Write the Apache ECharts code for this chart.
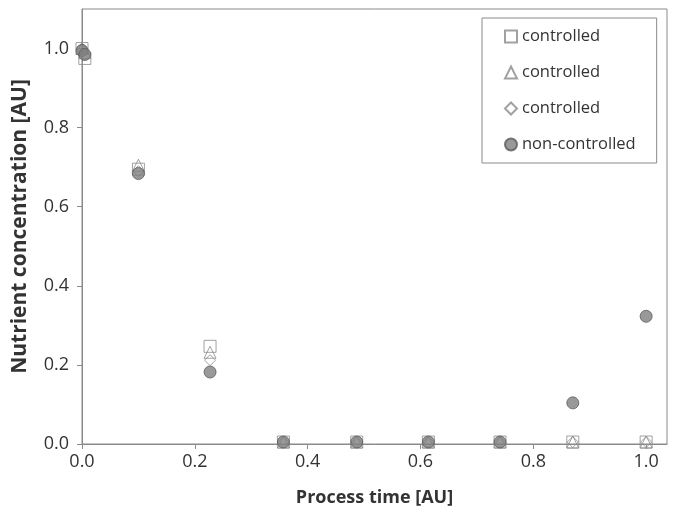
<!DOCTYPE html>
<html><head><meta charset="utf-8">
<script src="https://cdn.jsdelivr.net/npm/echarts@6/dist/echarts.min.js"></script>
<style>html,body{margin:0;padding:0;background:#fff}#c{width:675px;height:514px}</style>
</head><body><div id="c"></div>
<script>
const times = [0, 0.005, 0.1, 0.227, 0.357, 0.487, 0.614, 0.741, 0.870, 1.0];
const controlledSquare = [1.0, 0.975, 0.695, 0.247, 0.005, 0.005, 0.005, 0.005, 0.005, 0.005];
const controlledTriangle = [1.0, 0.99, 0.705, 0.232, 0.005, 0.005, 0.005, 0.005, 0.005, 0.005];
const controlledDiamond = [1.0, 0.985, 0.69, 0.212, 0.005, 0.005, 0.005, 0.005, 0.005, 0.005];
const nonControlled = [0.995, 0.985, 0.684, 0.182, 0.005, 0.005, 0.005, 0.005, 0.104, 0.323];
const xTicks = [0, 0.2, 0.4, 0.6, 0.8, 1.0];
const yTicks = [0, 0.2, 0.4, 0.6, 0.8, 1.0];

const pair = arr => arr.map((v, i) => [times[i], v]);
const font = 'Open Sans';
const chart = echarts.init(document.getElementById('c'));
const openStyle = {color: 'rgba(255,255,255,0)', borderColor: '#8a8a8a', borderWidth: 1};
chart.setOption({
  animation: false,
  textStyle: {fontFamily: font},
  grid: {left: 82, top: 9, right: 8, bottom: 70, show: true, borderColor: '#8a8a8a', borderWidth: 1},
  legend: {
    orient: 'vertical', left: 482, top: 18,
    padding: [10, 21, 10, 22], itemGap: 19, itemWidth: 12, itemHeight: 12,
    borderColor: '#8a8a8a', borderWidth: 1,
    textStyle: {fontFamily: font, fontSize: 16.5, color: '#333'},
    data: [
      {name: 'controlled ', icon: 'rect'},
      {name: 'controlled  ', icon: 'triangle'},
      {name: 'controlled   ', icon: 'diamond'},
      {name: 'non-controlled', icon: 'circle'}
    ]
  },
  xAxis: {
    type: 'value', min: 0, max: 1.037, interval: 0.2,
    name: 'Process time [AU]', nameLocation: 'middle', nameGap: 45,
    nameTextStyle: {fontFamily: font, fontSize: 18, fontWeight: 'bold', color: '#333'},
    axisLine: {show: true, lineStyle: {color: '#8a8a8a'}},
    axisTick: {show: true, length: 5, lineStyle: {color: '#8a8a8a'}},
    splitLine: {show: false},
    axisLabel: {fontSize: 18, color: '#333', margin: 9, showMaxLabel: false,
      formatter: v => xTicks.some(t => Math.abs(t - v) < 1e-6) ? v.toFixed(1) : ''}
  },
  yAxis: {
    type: 'value', min: 0, max: 1.1, interval: 0.2,
    name: 'Nutrient concentration [AU]', nameLocation: 'middle', nameGap: 51,
    nameTextStyle: {fontFamily: font, fontSize: 21, fontWeight: 'bold', color: '#333'},
    axisLine: {show: true, lineStyle: {color: '#8a8a8a'}},
    axisTick: {show: true, length: 5, lineStyle: {color: '#8a8a8a'}},
    splitLine: {show: false},
    axisLabel: {fontSize: 18, color: '#333', margin: 13, showMaxLabel: false,
      formatter: v => yTicks.some(t => Math.abs(t - v) < 1e-6) ? v.toFixed(1) : ''}
  },
  series: [
    {name: 'controlled ', type: 'scatter', symbol: 'rect', symbolSize: 12, data: pair(controlledSquare), itemStyle: openStyle},
    {name: 'controlled  ', type: 'scatter', symbol: 'triangle', symbolSize: 12, data: pair(controlledTriangle), itemStyle: openStyle},
    {name: 'controlled   ', type: 'scatter', symbol: 'diamond', symbolSize: 11, data: pair(controlledDiamond), itemStyle: openStyle},
    {name: 'non-controlled', type: 'scatter', symbol: 'circle', symbolSize: 12, data: pair(nonControlled),
      itemStyle: {color: '#7f7f7f', borderColor: '#5a5a5a', borderWidth: 1}}
  ]
});
</script></body></html>
